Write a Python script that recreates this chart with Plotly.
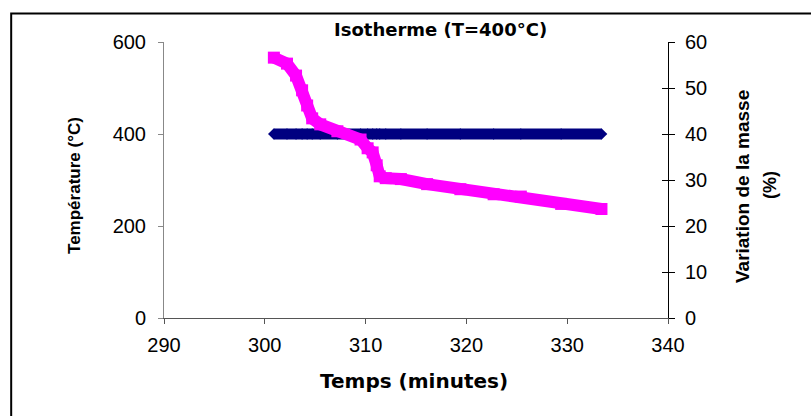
import plotly.graph_objects as go

# Temps (minutes), température (°C) et variation de la masse (%)
temps = [300.9, 302.2, 303.1, 303.7, 304.2, 304.7, 305.5, 307.2, 309.5, 310.2, 310.7,
         311.1, 311.4, 312.0, 313.5, 316.1, 319.4, 322.7, 325.4, 329.4, 333.4]
temperature = [400, 400, 400, 400, 400, 400, 400, 400, 400, 400, 400,
               400, 400, 400, 400, 400, 400, 400, 400, 400, 400]
masse = [56.6, 55.3, 52.7, 49.5, 46.2, 43.4, 42.1, 40.6, 38.8, 36.9, 36.0,
         33.2, 30.8, 30.4, 30.2, 29.1, 28.0, 26.9, 26.4, 24.8, 23.7]

x_ticks = [290, 300, 310, 320, 330, 340]
y_ticks = [0, 200, 400, 600]
y2_ticks = [0, 10, 20, 30, 40, 50, 60]

FONT = "Liberation Sans, Arial, sans-serif"
TITLE_FONT = "DejaVu Sans, Liberation Sans, sans-serif"

fig = go.Figure()

# Temperature (left axis)
fig.add_trace(go.Scatter(
    x=temps, y=temperature, mode='lines+markers', name='Température',
    line=dict(color='#000080', width=11),
    marker=dict(symbol='diamond', size=9, color='#000080'),
    yaxis='y'
))

# Mass variation (right axis)
fig.add_trace(go.Scatter(
    x=temps, y=masse, mode='lines+markers', name='Variation de la masse',
    line=dict(color='#FF00FF', width=12),
    marker=dict(symbol='square', size=12, color='#FF00FF'),
    yaxis='y2'
))

fig.update_layout(
    width=811, height=416,
    margin=dict(l=164, r=143, t=42, b=98),
    paper_bgcolor='white', plot_bgcolor='white',
    showlegend=False,
    font=dict(family=FONT, color='black'),
    xaxis=dict(
        range=[290, 340], tickvals=x_ticks, showgrid=False, zeroline=False,
        showline=True, linecolor='#555555', linewidth=1,
        ticks='outside', ticklen=5, tickcolor='#555555',
        tickfont=dict(size=20), ticklabelstandoff=4,
    ),
    yaxis=dict(
        range=[0, 600], tickvals=y_ticks, showgrid=False, zeroline=False,
        showline=True, linecolor='#888888', linewidth=1,
        ticks='outside', ticklen=5, tickcolor='#888888',
        tickfont=dict(size=20), ticklabelstandoff=8,
    ),
    yaxis2=dict(
        range=[0, 60], tickvals=y2_ticks, overlaying='y', side='right',
        showgrid=False, zeroline=False,
        showline=True, linecolor='black', linewidth=1,
        ticks='outside', ticklen=6, tickcolor='black',
        tickfont=dict(size=20), ticklabelstandoff=6,
    ),
    yaxis3=dict(
        range=[0, 60], tickvals=y2_ticks, overlaying='y', side='right',
        showgrid=False, zeroline=False, showticklabels=False,
        ticks='inside', ticklen=6, tickcolor='black',
    ),
)

# dummy trace so yaxis3 (inner tick half) is drawn
fig.add_trace(go.Scatter(x=[None], y=[None], yaxis='y3', showlegend=False, hoverinfo='skip'))

labels = [
    ('<b>Isotherme (T=400°C)</b>', 0.548, 1.0435, 0, 18, TITLE_FONT),
    ('<b>Temps (minutes)</b>', 0.496, -0.228, 0, 20, TITLE_FONT),
    ('<b>Température (°C)</b>', -0.1766, 0.482, -90, 17, FONT),
    ('<b>Variation de la masse</b>', 1.1468, 0.478, -90, 19, FONT),
    ('<b>(%)</b>', 1.2024, 0.482, -90, 18, FONT),
]
for text, x, y, angle, size, family in labels:
    fig.add_annotation(text=text, xref='paper', yref='paper', x=x, y=y,
                       xanchor='center', yanchor='middle', showarrow=False,
                       textangle=angle, font=dict(size=size, family=family))

# outer chart frame (runs off the right and bottom edges)
fig.add_shape(type='rect', xref='paper', yref='paper',
              x0=-0.3032, x1=1.5, y0=-0.6, y1=1.1033,
              line=dict(color='black', width=2), layer='below')

fig.write_html("out.html", config={'displayModeBar': False},
               post_script="document.body.style.margin='0';document.body.style.overflow='hidden';")
